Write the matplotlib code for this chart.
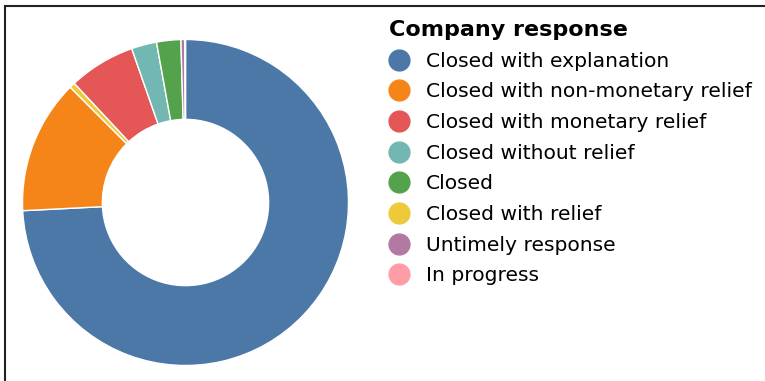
import matplotlib.pyplot as plt
from matplotlib.lines import Line2D

responses = ["Closed with explanation", "Closed with non-monetary relief",
             "Closed with monetary relief", "Closed without relief", "Closed",
             "Closed with relief", "Untimely response", "In progress"]
colors = ["#4c78a8", "#f58518", "#e45756", "#72b7b2", "#54a24b",
          "#eeca3b", "#b279a2", "#ff9da6"]

# share of complaints per response, in the order the ring is drawn (clockwise from top)
ring_order = ["Closed with explanation", "Closed with non-monetary relief",
              "Closed with relief", "Closed with monetary relief",
              "Closed without relief", "Closed", "Untimely response", "In progress"]
ring_share = [74.2, 13.3, 0.55, 6.6, 2.5, 2.4, 0.4, 0.05]

color_of = dict(zip(responses, colors))

fig = plt.figure(figsize=(7.65, 3.81), dpi=100)

W, H = 765, 381
cx, cy, r = 185.5, 202.5, 163
ax = fig.add_axes([(cx - r) / W, (H - cy - r) / H, 2 * r / W, 2 * r / H])
ax.pie(ring_share, colors=[color_of[k] for k in ring_order],
       startangle=90, counterclock=False, radius=1.0,
       wedgeprops=dict(width=0.49, edgecolor="white", linewidth=1))
ax.set_xlim(-1, 1)
ax.set_ylim(-1, 1)
ax.set_aspect("equal")
ax.axis("off")

handles = [Line2D([], [], linestyle="none", marker="o", markersize=15,
                  markerfacecolor=c, markeredgecolor=c) for c in colors]
leg = fig.legend(handles, responses, title="Company response",
                 loc="upper left", bbox_to_anchor=(389 / W, 1 - 20 / H),
                 frameon=False, fontsize=14.6, title_fontsize=16,
                 handlelength=1.0, handletextpad=0.82, labelspacing=0.575,
                 borderpad=0, borderaxespad=0, alignment="left")
leg.get_title().set_fontweight("bold")

# frame lines along the left and top edges
fig.add_artist(Line2D([4.5 / W, 4.5 / W], [0, 1 - 5.5 / H], color="#222222", lw=1.5))
fig.add_artist(Line2D([4.5 / W, 1], [1 - 5.5 / H, 1 - 5.5 / H], color="#222222", lw=1.5))

fig.savefig("out.png", dpi=100)
